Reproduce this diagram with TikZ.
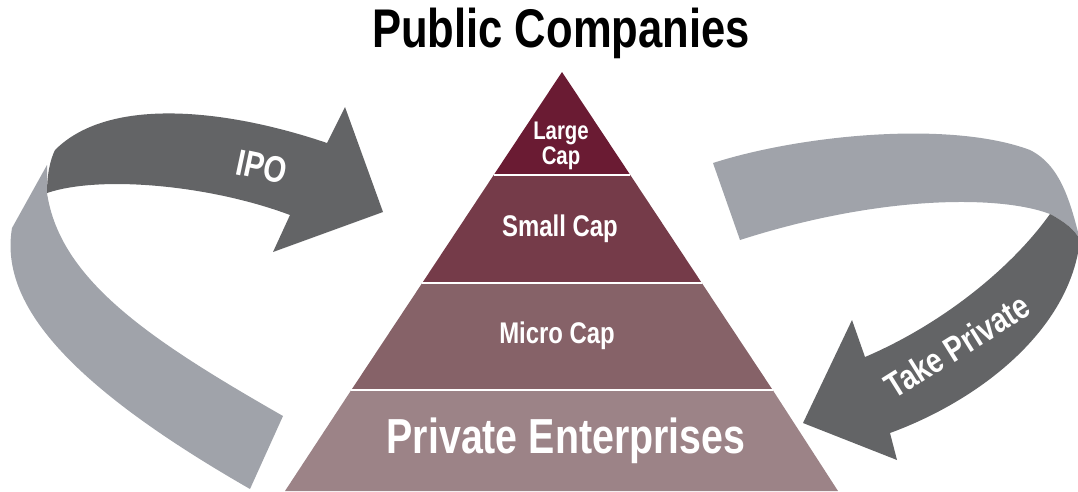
\documentclass[tikz,border=0pt]{standalone}
\usepackage{fontspec}
\setmainfont{Liberation Sans}[FakeStretch=0.8]
\usetikzlibrary{positioning,calc}
\definecolor{capLarge}{HTML}{6A1B33}
\definecolor{capSmall}{HTML}{753B49}
\definecolor{capMicro}{HTML}{866268}
\definecolor{capPrivate}{HTML}{9C8387}
\definecolor{arrowDark}{HTML}{636466}
\definecolor{arrowLight}{HTML}{A0A3AA}
\tikzset{
  layertext/.style={text=white, font=\bfseries\fontsize{17}{19}\selectfont, align=center},
  arrowtext/.style={text=white, font=\bfseries\fontsize{21}{23}\selectfont}
}
\begin{document}
\begin{tikzpicture}[x=0.02cm, y=-0.02cm]
		\useasboundingbox (0,0) rectangle (1078,491);
		
		% Pyramid layers
		\fill[capLarge] (562,72) -- (630.3,175) -- (493.7,175) -- cycle;
		\fill[capSmall] (493.7,175) -- (630.3,175) -- (701.8,283) -- (422.2,283) -- cycle;
		\fill[capMicro] (422.2,283) -- (701.8,283) -- (772.7,390) -- (351.3,390) -- cycle;
		\fill[capPrivate] (351.3,390) -- (772.7,390) -- (838,491) -- (285,491) -- cycle;
		
		% white separators
		\foreach \y/\a/\b in {175/493.7/630.3, 283/422.2/701.8, 390/351.3/772.7} {
			\draw[white, line width=1.6pt] (\a,\y) -- (\b,\y);
		}
		
		% Layer labels
		\node[layertext, font=\bfseries\fontsize{14.5}{14.5}\selectfont] (large) at (561,146) {Large\\Cap};
		\node[layertext] (small) at (560,229) {Small Cap};
		\node[layertext] (micro) at (557,336) {Micro Cap};
		\node[layertext, font=\bfseries\fontsize{28}{30}\selectfont] (private) at (566,441) {Private Enterprises};
		
		% Title
		\node[font=\bfseries\fontsize{31}{34}\selectfont] (title) at (561,33) {Public Companies};
		
		% IPO ribbon (light part)
		\fill[arrowLight] (47,165) -- (12,228) .. controls (0,300) and (60,380) .. (250,489)
			-- (283,416) .. controls (150,340) and (60,280) .. (47,193) -- cycle;
		% IPO arrow (dark part)
		\fill[arrowDark] (55,150) .. controls (110,95) and (230,110) .. (327,143)
			-- (345,107) -- (383,212) -- (273,252) -- (290,215)
			.. controls (210,185) and (100,175) .. (47,193)
			.. controls (47,175) and (50,160) .. (55,150) -- cycle;
		\node[arrowtext, rotate=-12] (ipo) at (262,167) {IPO};
		
		% Take Private ribbon (light part)
		\fill[arrowLight] (713,163) .. controls (800,135) and (950,120) .. (1030,150)
			.. controls (1060,165) and (1070,200) .. (1080,240)
			.. controls (1075,230) and (1065,222) .. (1050,214)
			.. controls (1000,195) and (880,195) .. (740,240) -- cycle;
		% Take Private arrow (dark part)
		\fill[arrowDark] (1050,214) .. controls (1065,222) and (1075,230) .. (1080,240)
			.. controls (1070,330) and (980,400) .. (890,433)
			-- (897,460) -- (803,423) -- (852,320) -- (865,357)
			.. controls (940,325) and (1010,270) .. (1050,214) -- cycle;
		\node[arrowtext, font=\bfseries\fontsize{20}{22}\selectfont, rotate=32] (takeprivate) at (957,346) {Take Private};
	\end{tikzpicture}
\end{document}
